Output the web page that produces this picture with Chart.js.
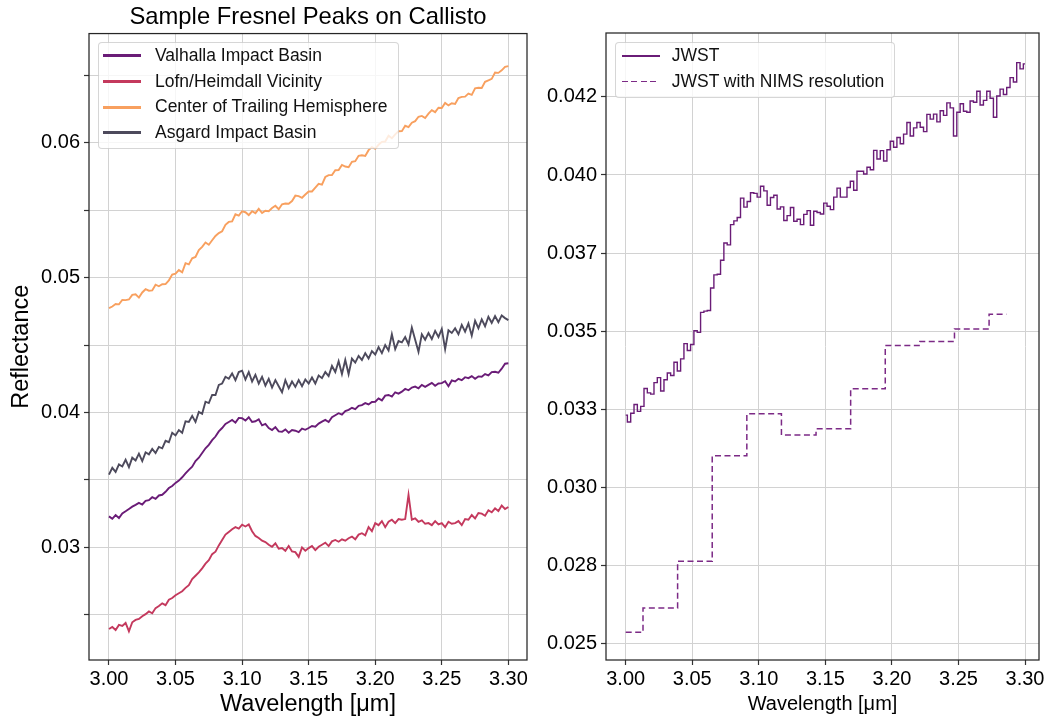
<!DOCTYPE html>
<html>
<head>
<meta charset="utf-8">
<script src="https://cdn.jsdelivr.net/npm/chart.js@4.4.1/dist/chart.umd.min.js"></script>
<style>
  html, body { margin: 0; padding: 0; background: #fff; }
  #page { position: relative; width: 1047px; height: 719px; overflow: hidden; font-family: 'Liberation Sans', Arial, sans-serif; }
  .panel { position: absolute; top: 0; }
  .legend { position: absolute; background: rgba(255,255,255,0.8); border: 1px solid rgba(0,0,0,0.16); border-radius: 4px; box-sizing: border-box; }
  .legend .row { position: absolute; left: 0; right: 0; height: 25.6px; }
  .legend .key { position: absolute; width: 38px; }
  .legend .txt { position: absolute; top: 0; line-height: 25.6px; font-size: 17.5px; color: #111; white-space: nowrap; }
</style>
</head>
<body>
<div id="page">
  <canvas id="leftCanvas" class="panel" style="left:0" width="530" height="719"></canvas>
  <canvas id="rightCanvas" class="panel" style="left:530px" width="517" height="719"></canvas>
  <div id="leftLegend" class="legend" style="left:98px;top:42px;width:301px;height:107px"></div>
  <div id="rightLegend" class="legend" style="left:615px;top:42px;width:280px;height:56px"></div>
</div>
<script>
// ---- data -------------------------------------------------------------
// spectra sampled every 0.0025 um from 3.00 to 3.30 um
const WL_START = 3.0, WL_STEP = 0.0025, WL_COUNT = 121;
const wavelength = Array.from({ length: WL_COUNT }, (_, i) => +(WL_START + i * WL_STEP).toFixed(4));

const valhalla = [
  0.03230,0.03212,0.03240,0.03218,0.03252,0.03268,0.03285,0.03302,
  0.03315,0.03330,0.03318,0.03345,0.03350,0.03372,0.03360,0.03385,
  0.03390,0.03412,0.03440,0.03455,0.03478,0.03495,0.03520,0.03548,
  0.03575,0.03598,0.03640,0.03665,0.03700,0.03735,0.03760,0.03795,
  0.03822,0.03860,0.03885,0.03915,0.03930,0.03945,0.03925,0.03960,
  0.03958,0.03940,0.03965,0.03930,0.03935,0.03950,0.03905,0.03915,
  0.03885,0.03870,0.03892,0.03860,0.03858,0.03875,0.03850,0.03870,
  0.03865,0.03855,0.03880,0.03872,0.03885,0.03900,0.03895,0.03918,
  0.03932,0.03945,0.03930,0.03965,0.03980,0.03995,0.03985,0.04010,
  0.04020,0.04035,0.04025,0.04050,0.04055,0.04070,0.04060,0.04078,
  0.04080,0.04105,0.04090,0.04125,0.04130,0.04118,0.04150,0.04140,
  0.04155,0.04175,0.04165,0.04185,0.04192,0.04180,0.04205,0.04190,
  0.04205,0.04220,0.04198,0.04215,0.04218,0.04232,0.04195,0.04238,
  0.04230,0.04250,0.04240,0.04262,0.04255,0.04270,0.04250,0.04268,
  0.04265,0.04285,0.04275,0.04300,0.04302,0.04295,0.04325,0.04362,
  0.04365
];

const lofn = [
  0.02395,0.02410,0.02388,0.02425,0.02418,0.02440,0.02378,0.02445,
  0.02462,0.02470,0.02490,0.02505,0.02525,0.02512,0.02550,0.02565,
  0.02585,0.02572,0.02612,0.02625,0.02645,0.02660,0.02675,0.02700,
  0.02720,0.02765,0.02790,0.02815,0.02845,0.02880,0.02905,0.02950,
  0.02968,0.03015,0.03055,0.03095,0.03115,0.03135,0.03150,0.03140,
  0.03168,0.03155,0.03170,0.03120,0.03085,0.03070,0.03050,0.03040,
  0.03020,0.03005,0.03030,0.02990,0.02995,0.02975,0.03010,0.02970,
  0.02965,0.02930,0.03000,0.02975,0.02995,0.03010,0.02980,0.03005,
  0.03020,0.03035,0.03010,0.03045,0.03055,0.03042,0.03060,0.03050,
  0.03068,0.03080,0.03060,0.03095,0.03105,0.03090,0.03150,0.03120,
  0.03180,0.03165,0.03195,0.03150,0.03190,0.03205,0.03180,0.03210,
  0.03205,0.03210,0.03390,0.03205,0.03215,0.03190,0.03200,0.03175,
  0.03180,0.03165,0.03195,0.03170,0.03180,0.03150,0.03190,0.03175,
  0.03180,0.03195,0.03165,0.03210,0.03205,0.03240,0.03215,0.03255,
  0.03250,0.03235,0.03275,0.03260,0.03290,0.03270,0.03310,0.03285,
  0.03300
];

const trailing = [
  0.04774,0.04786,0.04804,0.04802,0.04834,0.04833,0.04838,0.04872,
  0.04877,0.04852,0.04890,0.04914,0.04903,0.04905,0.04948,0.04936,
  0.04951,0.04952,0.04980,0.05023,0.05030,0.05056,0.05040,0.05107,
  0.05098,0.05143,0.05153,0.05204,0.05228,0.05261,0.05244,0.05277,
  0.05309,0.05330,0.05344,0.05392,0.05413,0.05417,0.05470,0.05460,
  0.05492,0.05485,0.05464,0.05492,0.05478,0.05510,0.05479,0.05496,
  0.05493,0.05516,0.05533,0.05507,0.05544,0.05550,0.05548,0.05568,
  0.05608,0.05604,0.05592,0.05616,0.05639,0.05639,0.05668,0.05696,
  0.05689,0.05746,0.05760,0.05761,0.05796,0.05798,0.05836,0.05824,
  0.05819,0.05859,0.05863,0.05903,0.05907,0.05902,0.05945,0.05968,
  0.05955,0.05985,0.06007,0.06009,0.06052,0.06033,0.06062,0.06085,
  0.06086,0.06126,0.06116,0.06149,0.06160,0.06193,0.06199,0.06183,
  0.06216,0.06242,0.06227,0.06260,0.06258,0.06295,0.06277,0.06293,
  0.06288,0.06332,0.06340,0.06342,0.06364,0.06355,0.06403,0.06408,
  0.06406,0.06452,0.06463,0.06474,0.06520,0.06518,0.06537,0.06563,
  0.06568
];

const asgard = [
  0.03540,0.03590,0.03560,0.03615,0.03600,0.03650,0.03595,0.03665,
  0.03645,0.03695,0.03640,0.03705,0.03690,0.03730,0.03700,0.03745,
  0.03735,0.03790,0.03780,0.03850,0.03830,0.03870,0.03850,0.03935,
  0.03930,0.03975,0.03930,0.04005,0.03990,0.04080,0.04070,0.04130,
  0.04130,0.04205,0.04215,0.04265,0.04250,0.04290,0.04240,0.04300,
  0.04310,0.04245,0.04300,0.04230,0.04280,0.04215,0.04265,0.04200,
  0.04250,0.04185,0.04240,0.04195,0.04150,0.04240,0.04180,0.04230,
  0.04190,0.04240,0.04195,0.04245,0.04215,0.04260,0.04215,0.04275,
  0.04255,0.04300,0.04270,0.04345,0.04300,0.04380,0.04285,0.04390,
  0.04285,0.04400,0.04370,0.04420,0.04390,0.04440,0.04400,0.04455,
  0.04430,0.04485,0.04440,0.04500,0.04460,0.04580,0.04470,0.04530,
  0.04520,0.04560,0.04505,0.04630,0.04540,0.04450,0.04580,0.04540,
  0.04590,0.04545,0.04605,0.04560,0.04620,0.04470,0.04610,0.04590,
  0.04625,0.04580,0.04650,0.04600,0.04660,0.04570,0.04680,0.04625,
  0.04690,0.04640,0.04710,0.04665,0.04715,0.04670,0.04720,0.04700,
  0.04685
];

const jwst = [
  0.03231,0.03209,0.03237,0.03265,0.03243,0.03259,0.03316,0.03302,
  0.03298,0.03335,0.03351,0.03308,0.03344,0.03366,0.03358,0.03400,
  0.03372,0.03411,0.03460,0.03438,0.03457,0.03501,0.03496,0.03560,
  0.03564,0.03566,0.03638,0.03680,0.03682,0.03727,0.03782,0.03776,
  0.03841,0.03853,0.03864,0.03926,0.03897,0.03915,0.03943,0.03941,
  0.03929,0.03964,0.03949,0.03903,0.03928,0.03935,0.03891,0.03898,
  0.03854,0.03870,0.03896,0.03852,0.03858,0.03841,0.03874,0.03886,
  0.03839,0.03884,0.03880,0.03875,0.03910,0.03900,0.03889,0.03929,
  0.03958,0.03929,0.03929,0.03960,0.03980,0.03951,0.04012,0.04012,
  0.04003,0.04025,0.04017,0.04079,0.04051,0.04078,0.04045,0.04081,
  0.04108,0.04089,0.04120,0.04100,0.04131,0.04168,0.04125,0.04151,
  0.04168,0.04153,0.04139,0.04194,0.04179,0.04195,0.04170,0.04206,
  0.04191,0.04231,0.04215,0.04125,0.04201,0.04228,0.04204,0.04201,
  0.04237,0.04233,0.04268,0.04224,0.04239,0.04268,0.04246,0.04185,
  0.04253,0.04275,0.04258,0.04280,0.04312,0.04298,0.04360,0.04340,
  0.04356
];

// JWST binned to NIMS resolution (bin centres)
const nimsWavelength = [3.000, 3.026, 3.052, 3.078, 3.104, 3.130, 3.156, 3.182, 3.208, 3.234, 3.260, 3.286];
const nimsValues     = [0.02535, 0.02613, 0.02763, 0.03101, 0.03235, 0.03167, 0.03187, 0.03315, 0.03454, 0.03467, 0.03507, 0.03554];

const xTicks = [3.00, 3.05, 3.10, 3.15, 3.20, 3.25, 3.30];
const leftYTicks  = [0.025, 0.030, 0.035, 0.040, 0.045, 0.050, 0.055, 0.060, 0.065];
const leftYLabels = ['', '0.03', '', '0.04', '', '0.05', '', '0.06', ''];
const rightYTicks  = [0.025, 0.0275, 0.030, 0.0325, 0.035, 0.0375, 0.040, 0.0425];
const rightYLabels = ['0.025', '0.028', '0.030', '0.033', '0.035', '0.037', '0.040', '0.042'];

const leftSeries = [
  { name: 'Valhalla Impact Basin',         values: valhalla, color: '#6a1c77' },
  { name: 'Lofn/Heimdall Vicinity',        values: lofn,     color: '#c4395d' },
  { name: 'Center of Trailing Hemisphere', values: trailing, color: '#f8a05f' },
  { name: 'Asgard Impact Basin',           values: asgard,   color: '#4d4a5c' },
];

// ---- helpers ------------------------------------------------------------
Chart.defaults.font.family = "'Liberation Sans', Arial, Helvetica, sans-serif";
Chart.defaults.color = '#000';

const toPoints = (xs, ys) => ys.map((y, i) => ({ x: xs[i], y }));

const frame = {
  id: 'frame',
  afterDatasetsDraw(chart) {
    const { ctx, chartArea: a } = chart;
    ctx.save();
    ctx.strokeStyle = '#262626';
    ctx.lineWidth = 1.25;
    ctx.strokeRect(a.left, a.top, a.right - a.left, a.bottom - a.top);
    ctx.restore();
  }
};

const gridOpts = { color: '#d2d2d2', lineWidth: 1, tickColor: '#333', tickLength: 5, tickWidth: 1.2 };

function xScale(min, max, titleSize, titlePad) {
  return {
    type: 'linear', min, max,
    afterFit: s => { s.height = 59; },
    afterBuildTicks: ax => { ax.ticks = xTicks.map(v => ({ value: v })); },
    ticks: { callback: v => v.toFixed(2), font: { size: 20 }, color: '#000', padding: 2, maxRotation: 0, autoSkip: false },
    grid: gridOpts,
    border: { display: false },
    title: { display: true, text: 'Wavelength [\u03bcm]', font: { size: titleSize }, color: '#000', padding: { top: 0, bottom: titlePad } }
  };
}

// ---- left panel ---------------------------------------------------------
new Chart(document.getElementById('leftCanvas'), {
  type: 'line',
  data: {
    datasets: leftSeries.map(s => ({
      label: s.name, data: toPoints(wavelength, s.values),
      borderColor: s.color, borderWidth: 1.9, pointRadius: 0, tension: 0, fill: false
    }))
  },
  options: {
    responsive: false, animation: false, devicePixelRatio: 1,
    layout: { padding: { left: 0, right: 3, top: 0, bottom: 0 } },
    plugins: {
      legend: { display: false }, tooltip: { enabled: false },
      title: { display: true, text: 'Sample Fresnel Peaks on Callisto', fullSize: false,
               font: { size: 23.8, weight: 'normal' }, color: '#000', padding: { top: 3, bottom: 2 } }
    },
    scales: {
      x: xScale(2.985, 3.314, 23.5, 0),
      y: {
        type: 'linear', min: 0.021652, max: 0.068096,
        afterFit: s => { s.width = 89; },
        afterBuildTicks: ax => { ax.ticks = leftYTicks.map(v => ({ value: v })); },
        ticks: { callback: (v, i) => leftYLabels[i], font: { size: 20 }, color: '#000', padding: 4, autoSkip: false },
        grid: gridOpts,
        border: { display: false },
        title: { display: true, text: 'Reflectance', font: { size: 23.5 }, color: '#000', padding: { top: 7, bottom: 0 } }
      }
    }
  },
  plugins: [frame]
});

// ---- right panel --------------------------------------------------------
new Chart(document.getElementById('rightCanvas'), {
  type: 'line',
  data: {
    datasets: [
      { label: 'JWST', data: toPoints(wavelength, jwst), borderColor: '#6a1c77', borderWidth: 1.4,
        pointRadius: 0, stepped: 'middle', fill: false },
      { label: 'JWST with NIMS resolution', data: toPoints(nimsWavelength, nimsValues), borderColor: '#7c2a86',
        borderWidth: 1.5, borderDash: [6, 3.5], pointRadius: 0, stepped: 'middle', fill: false }
    ]
  },
  options: {
    responsive: false, animation: false, devicePixelRatio: 1,
    layout: { padding: { left: 0, right: 8, top: 33, bottom: 0 } },
    plugins: { legend: { display: false }, tooltip: { enabled: false } },
    scales: {
      x: xScale(2.9852, 3.3105, 20, 3),
      y: {
        type: 'linear', min: 0.024465, max: 0.044548,
        afterFit: s => { s.width = 76; },
        afterBuildTicks: ax => { ax.ticks = rightYTicks.map(v => ({ value: v })); },
        ticks: { callback: (v, i) => rightYLabels[i], font: { size: 20 }, color: '#000', padding: 4, autoSkip: false },
        grid: gridOpts,
        border: { display: false }
      }
    }
  },
  plugins: [frame]
});

// ---- legends (drawn inside the axes like matplotlib) -------------------
function buildLegend(el, items, keyLeft, txtLeft) {
  items.forEach((it, i) => {
    const row = document.createElement('div');
    row.className = 'row';
    row.style.top = (0.2 + 25.6 * i) + 'px';
    const key = document.createElement('div');
    key.className = 'key';
    key.style.left = keyLeft + 'px';
    key.style.top = (12.8 - it.width / 2) + 'px';
    key.style.height = it.width + 'px';
    key.style.background = it.dashed
      ? `repeating-linear-gradient(to right, ${it.color} 0 6px, transparent 6px 9.5px)`
      : it.color;
    const txt = document.createElement('div');
    txt.className = 'txt';
    txt.style.left = txtLeft + 'px';
    txt.textContent = it.name;
    row.appendChild(key);
    row.appendChild(txt);
    el.appendChild(row);
  });
}

buildLegend(document.getElementById('leftLegend'),
  leftSeries.map(s => ({ name: s.name, color: s.color, width: 3 })), 4.3, 56);
buildLegend(document.getElementById('rightLegend'), [
  { name: 'JWST', color: '#6a1c77', width: 1.5 },
  { name: 'JWST with NIMS resolution', color: '#7c2a86', width: 1.5, dashed: true }
], 5.7, 55.7);
</script>
</body>
</html>
